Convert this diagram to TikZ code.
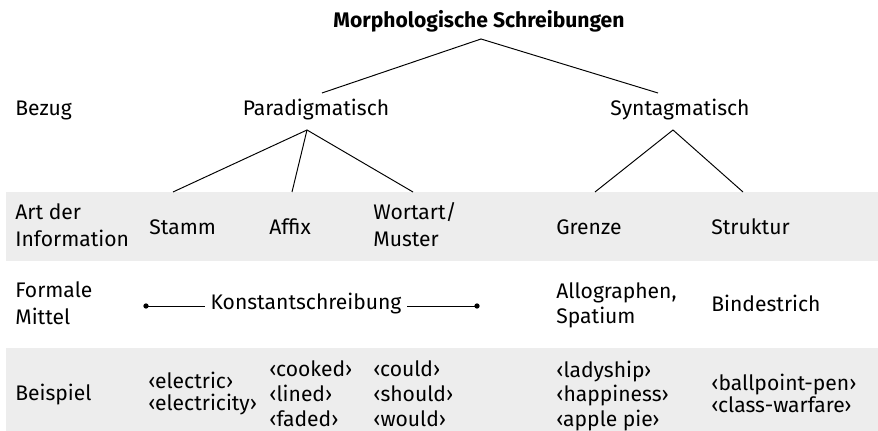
\documentclass[tikz,border=0pt]{standalone}
\usepackage{fontspec}
\setmainfont{Fira Sans}
\usetikzlibrary{positioning}
\definecolor{bandgray}{RGB}{237,237,237}

\tikzset{
  txt/.style={anchor=west,inner sep=0pt,align=left,font=\fontsize{12}{14.2}\selectfont},
  mid/.style={inner sep=0pt,font=\fontsize{12}{14.2}\selectfont},
  wide/.style={font=\fontsize{12}{15.3}\selectfont},
  tight/.style={font=\fontsize{12}{12.5}\selectfont},
  ln/.style={line width=0.55pt}
}

\begin{document}
\begin{tikzpicture}[x=0.02cm,y=-0.02cm]
\useasboundingbox (0,0) rectangle (878,431);
% grey bands
\fill[bandgray] (6,192) rectangle (878,261);
\fill[bandgray] (6,348) rectangle (878,431);

% tree
\node[mid,font=\fontsize{12}{14}\selectfont\bfseries] (title) at (479,21) {Morphologische Schreibungen};
\node[txt] (bezug) at (15,110) {Bezug};
\node[mid] (para) at (316,110) {Paradigmatisch};
\node[mid] (syn) at (680,110) {Syntagmatisch};
\coordinate (apex) at (481,39); \coordinate (pin) at (322,93); \coordinate (sin) at (658,93);
\coordinate (pout) at (307,130); \coordinate (sout) at (673,130);
\coordinate (stammtop) at (173,192); \coordinate (affixtop) at (292,192); \coordinate (worttop) at (413,192);
\coordinate (grenztop) at (595,192); \coordinate (struktop) at (743,192);
\draw[ln] (pin) -- (apex) -- (sin);
\draw[ln] (stammtop) -- (pout) -- (worttop); \draw[ln] (pout) -- (affixtop);
\draw[ln] (grenztop) -- (sout) -- (struktop);

% Art der Information
\node[txt,wide] (art) at (15,225) {Art der\\Information};
\node[txt] (stamm) at (149,227) {Stamm};
\node[txt] (affix) at (269,227) {Affix};
\node[txt,wide] (wort) at (373,225) {Wortart/\\Muster};
\node[txt] (grenze) at (556,227) {Grenze};
\node[txt] (struktur) at (711,227) {Struktur};

% Formale Mittel
\node[txt,wide] (formal) at (15,303) {Formale\\Mittel};
\node[mid,inner xsep=3pt] (konst) at (306,304) {Konstantschreibung};
\coordinate (kl) at (146,306); \coordinate (kr) at (477,306);
\draw[ln] (kl) -- (kl -| konst.west); \draw[ln] (kr -| konst.east) -- (kr);
\fill (kl) circle (1.5pt); \fill (kr) circle (1.5pt);
\node[txt] (allo) at (556,305) {Allographen,\\Spatium};
\node[txt] (binde) at (711,303) {Bindestrich};

% Beispiel
\node[txt] (beisp) at (15,395) {Beispiel};
\node[txt,tight] (bstamm) at (148,394) {‹electric›\\‹electricity›};
\node[txt] (baffix) at (269,394) {‹cooked›\\‹lined›\\‹faded›};
\node[txt] (bwort) at (373,394) {‹could›\\‹should›\\‹would›};
\node[txt] (bgrenze) at (556,396) {‹ladyship›\\‹happiness›\\‹apple pie›};
\node[txt,tight] (bstruk) at (711,393.5) {‹ballpoint-pen›\\‹class-warfare›};
\end{tikzpicture}
\end{document}
